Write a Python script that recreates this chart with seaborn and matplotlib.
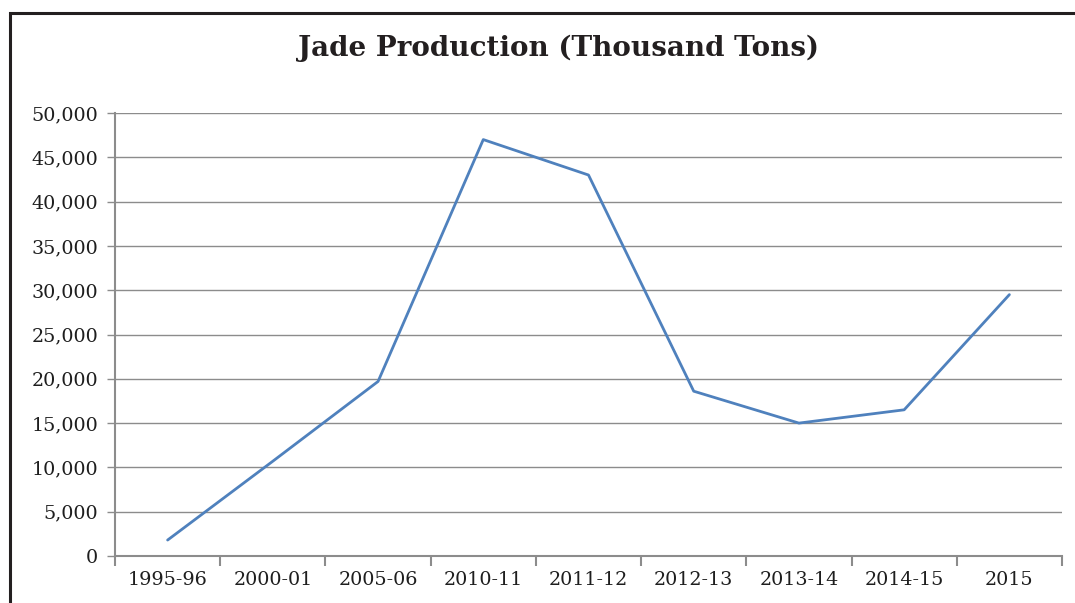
import matplotlib
matplotlib.use("Agg")
import matplotlib.pyplot as plt
import numpy as np
import pandas as pd
import seaborn as sns
from matplotlib.patches import Rectangle
from matplotlib.ticker import FuncFormatter

periods = ["1995-96", "2000-01", "2005-06", "2010-11", "2011-12",
           "2012-13", "2013-14", "2014-15", "2015"]
production = [1800, 10700, 19700, 47000, 43000, 18600, 15000, 16500, 29500]
y_ticks = list(range(0, 50001, 5000))

df = pd.DataFrame({"period": periods, "production": production})

sns.set_style("white")
plt.rcParams["font.family"] = ["DejaVu Serif", "DejaVu Sans"]

fig = plt.figure(figsize=(10.75, 6.03), dpi=100)
ax = fig.add_axes([115 / 1075, 1 - 556 / 603, (1062 - 115) / 1075, (556 - 113) / 603])

sns.lineplot(data=df, x="period", y="production", ax=ax, color="#4f81bd", linewidth=2, sort=False)

grid_col = "#8c8c8c"
ax.set_xlim(-0.5, len(periods) - 0.5)
ax.set_ylim(0, 50000)
ax.set_yticks(y_ticks)
ax.yaxis.set_major_formatter(FuncFormatter(lambda v, p: f"{int(v):,}"))
ax.set_xticks(range(len(periods)))
ax.set_xticklabels(periods)
ax.set_xticks(np.arange(-0.5, len(periods)), minor=True)
ax.grid(axis="y", color=grid_col, linewidth=1.0)
ax.set_axisbelow(True)
ax.set_xlabel("")
ax.set_ylabel("")

for side in ["top", "right"]:
    ax.spines[side].set_visible(False)
for side in ["left", "bottom"]:
    ax.spines[side].set_color(grid_col)
    ax.spines[side].set_linewidth(1.5)

ax.tick_params(axis="x", which="major", length=0, pad=11, labelsize=13.8, labelcolor="#1e1e1e")
ax.tick_params(axis="x", which="minor", direction="out", length=7, width=1.5, color=grid_col, bottom=True)
ax.tick_params(axis="y", which="major", direction="out", length=6, width=1.0, color=grid_col,
               left=True, pad=6, labelsize=13.8, labelcolor="#1e1e1e")

fig.text(558 / 1075, 1 - 48 / 603, "Jade Production (Thousand Tons)", ha="center", va="center",
         fontsize=20, fontweight="heavy", color="#231f20")

fig.patches.append(Rectangle((10 / 1075, -0.2), 2, 1.2 - 13 / 603, transform=fig.transFigure,
                             fill=False, edgecolor="#231f20", linewidth=2.2, clip_on=False))

fig.savefig("out.png", dpi=100)
